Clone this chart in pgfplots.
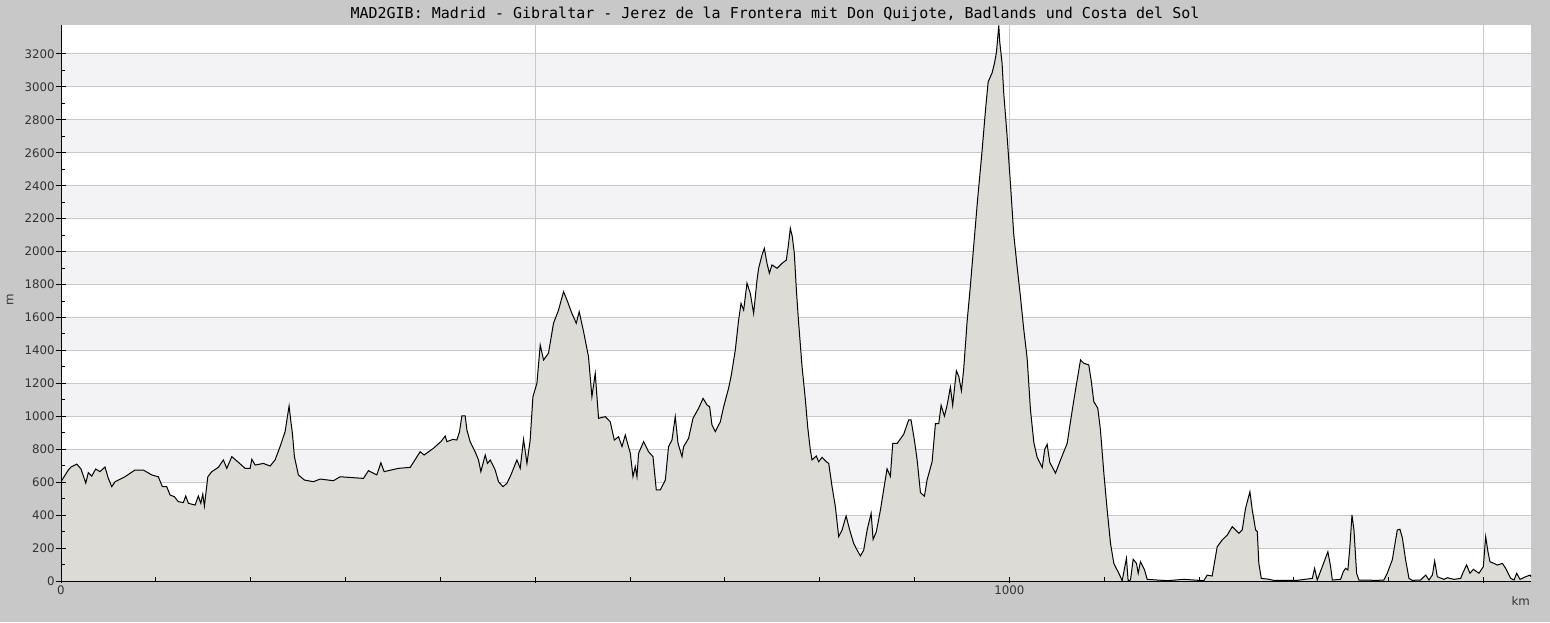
\documentclass[border=0pt]{standalone}
\usepackage{pgfplots}
\usepackage{pgfplotstable}
\pgfplotsset{compat=1.18}
\usepackage{fontspec}
\setmainfont{DejaVu Sans}
\newfontfamily\titlefont{DejaVu Sans Mono}

\definecolor{bggray}{HTML}{C8C8C8}
\definecolor{band}{HTML}{F3F2F5}
\definecolor{profil}{HTML}{DCDBD6}
\definecolor{gridc}{HTML}{C8C8C8}
\definecolor{labc}{HTML}{333333}

\pgfdeclarelayer{picbg}
\pgfdeclarelayer{axis background}
\pgfdeclarelayer{axis grid}
\pgfdeclarelayer{pre main}
\pgfdeclarelayer{axis ticks}
\pgfdeclarelayer{axis lines}
\pgfdeclarelayer{axis tick labels}
\pgfdeclarelayer{axis descriptions}
\pgfdeclarelayer{axis foreground}
% grid below the profile, ticks and axis lines above it
\pgfplotsset{
  layers/profil/.define layer set={picbg,axis background,axis grid,pre main,main,axis ticks,axis lines,axis tick labels,axis descriptions,axis foreground}{
    grid style={/pgfplots/on layer=axis grid},
    tick style={/pgfplots/on layer=axis ticks},
    axis line style={/pgfplots/on layer=axis lines},
    label style={/pgfplots/on layer=axis descriptions},
    legend style={/pgfplots/on layer=axis descriptions},
    title style={/pgfplots/on layer=axis descriptions},
    colorbar style={/pgfplots/on layer=axis descriptions},
    ticklabel style={/pgfplots/on layer=axis tick labels},
    axis background@ style={/pgfplots/on layer=axis background},
    3d box foreground style={/pgfplots/on layer=axis foreground},
  },
}

% Hoehenprofil: km, m
\pgfplotstableread{
km m
0 603
7.7 674
10.5 692
16.6 710
21.1 680
26.1 595
28.8 658
32.4 637
36.6 680
41.1 664
46.4 692
49.9 623
53.5 573
57.0 603
67.5 633
72.8 654
78.1 674
86.8 674
95.7 644
102.6 633
106.9 573
111.5 573
115 522
119.5 512
123.7 482
129 476
131.5 516
134.3 472
141.4 461
144.8 516
147.4 472
149.5 528
151.2 455
154.8 633
159 664
165.9 690
171.2 735
174.8 684
180.1 755
186.4 724
194.1 684
199.4 684
201.2 739
204.7 704
213.4 714
220.5 698
225.7 735
231 816
236.3 907
240.5 1063
242.6 958
244 897
246.1 755
250.3 644
256.7 613
266.2 603
273.2 619
287.3 609
294.3 633
318.9 623
324.2 670
333 644
337.3 718
340.7 664
355.8 684
368.2 690
378.7 785
382.9 765
392.7 806
400.5 846
405.1 880
406.9 846
413.2 860
417.4 856
420.2 907
422.7 1002
426.2 1002
428 917
431.4 846
436.7 785
440.2 735
442.7 664
447.3 765
449.7 714
452.6 735
457.8 674
461.3 603
466 573
470.2 593
474.4 644
480.7 735
484.2 684
487.7 860
491.3 714
494.7 856
497.6 1119
501.8 1200
505.3 1433
508.8 1342
514 1383
519.3 1565
524.6 1645
529.9 1757
533.5 1706
538.7 1625
543.3 1565
546.4 1635
551 1514
556.2 1362
559.8 1119
563.3 1261
566.8 988
573.9 998
579.1 967
583.4 856
587.9 876
591.5 816
595 887
600.3 775
603.1 633
605.5 694
607.3 633
609 775
614.3 846
619.5 785
624.2 755
627.7 553
631.9 553
637.2 613
640.6 816
644.2 856
647.7 998
650.6 836
654.8 755
656.5 816
661.7 866
666.4 988
672.3 1049
677 1109
681.2 1069
683.9 1058
686.4 947
689.9 907
695.2 967
698.7 1058
703.9 1170
706.8 1251
711 1403
714.5 1585
717 1686
719.8 1645
723.3 1808
726.8 1747
730.3 1625
733.9 1828
735.6 1899
739.2 1980
741.6 2020
744.4 1929
746.9 1869
749.7 1919
755 1899
760.3 1929
764.8 1949
767.2 2050
769 2142
771.1 2091
773.2 1990
775.4 1767
777.8 1565
781.4 1301
784.9 1099
787.3 937
790.1 795
791.9 735
796.4 759
798.9 724
802.5 751
807 724
809.5 714
813 573
816.5 451
820 269
823.6 310
827.8 395
831.6 310
835.8 229
839.4 188
842.9 152
846.4 188
850 310
854.2 411
856.3 253
859.7 299
864 431
867.4 553
871 681
874.5 636
877 835
881.6 835
888.5 890
893.8 978
896.3 978
899.8 857
902.7 736
906.2 537
910.4 515
913.2 614
918.5 724
922 956
925.5 956
928 1067
931.5 1001
934.3 1067
937.8 1177
940.2 1067
944.1 1276
946.6 1243
949.4 1155
951.8 1287
955.4 1574
958.9 1795
962.4 2038
966.6 2325
971.2 2612
974.7 2854
977.6 3031
981.8 3086
984.2 3142
986.3 3208
988.8 3373
989.8 3274
992.3 3142
994 2965
997.6 2700
1001.1 2413
1004.6 2104
1008.2 1905
1011.6 1729
1015.1 1530
1018.7 1353
1022.2 1040
1025.8 840
1029.3 750
1034.6 690
1037.3 800
1039.8 830
1042.6 720
1048.6 655
1053.9 735
1060.9 836
1065.2 998
1069.7 1160
1075 1342
1078.4 1322
1083.7 1312
1086.2 1220
1089 1089
1093.2 1049
1096 917
1099.6 654
1103.1 431
1106.6 229
1110.1 107
1115.4 47
1118.9 2
1123.4 138
1125.2 2
1127.7 6
1130.5 132
1134 107
1135.8 47
1138.2 117
1142.5 67
1145.3 10
1166.4 2
1183.9 10
1205 2
1208.6 36
1213.8 30
1219.1 208
1224.4 249
1229.7 279
1235 330
1242 290
1245.5 310
1249 441
1253.6 542
1256.1 431
1259.6 310
1261.4 299
1263 107
1265.6 16
1271.9 12
1278.9 4
1303.5 4
1319.4 16
1321.8 77
1324.6 6
1329.9 87
1335.8 178
1338.7 87
1340.5 6
1349.2 10
1352.1 57
1354.5 77
1356.9 67
1359 208
1361.2 401
1363.3 310
1366.1 47
1368.5 6
1387.9 4
1394.9 6
1398.4 47
1403.7 128
1409 310
1411.8 314
1414.3 263
1417.8 128
1421.3 16
1424.8 4
1433.6 6
1438.9 36
1442.4 6
1446 36
1448.4 121
1451.2 26
1458.2 10
1461.8 20
1468.8 10
1475.8 16
1478.7 57
1482.1 97
1485.6 47
1489.2 71
1495.1 47
1499.7 87
1502.2 269
1504.6 178
1506.7 117
1510.9 107
1514.5 97
1519.8 107
1523.3 77
1528.6 16
1532.1 6
1534.9 47
1538.4 10
1544.4 26
1549 36
1550 26
}\profiltab

\begin{document}
\begin{tikzpicture}
\pgfsetlayers{picbg,axis background,axis grid,pre main,main,axis ticks,axis lines,axis tick labels,axis descriptions,axis foreground}
% grauer Hintergrund (1 px = 0.5 pt), Achsenrechteck von (0,0) bis (735pt,278pt)
\begin{pgfonlayer}{picbg}
  \fill[bggray] (-30.5pt,-20.5pt) rectangle (744.5pt,290.5pt);
\end{pgfonlayer}
\begin{axis}[
    set layers=profil,
    scale only axis,
    width=735pt, height=278pt,
    xmin=0, xmax=1550,
    ymin=0, ymax=3376,
    axis x line*=bottom,
    axis y line*=left,
    axis line style={black, line width=0.5pt},
    xtick={0,500,1000,1500},
    xticklabels={0,,1000,},
    minor x tick num=4,
    ytick={0,200,...,3200},
    yticklabel={\pgfmathprintnumber{\tick}},
    minor y tick num=1,
    xmajorgrids, ymajorgrids,
    grid style={gridc, line width=0.5pt},
    tick align=center,
    major tick length=5.5pt,
    minor tick length=2pt,
    tick style={black, line width=0.5pt},
    xtick style={/pgfplots/major tick length=3pt},
    every major x tick/.append style={yshift=0.75pt},
    every minor x tick/.append style={yshift=1pt},
    every minor y tick/.append style={xshift=1pt},
    ticklabel style={font=\fontsize{5.9}{7}\selectfont, text=labc},
    /pgf/number format/assume math mode=true,
    /pgf/number format/1000 sep={},
    yticklabel style={anchor=east, inner sep=0pt, xshift=-0.2pt},
    xticklabel style={anchor=north, inner sep=0pt, yshift=0.8pt},
    title={MAD2GIB: Madrid - Gibraltar - Jerez de la Frontera mit Don Quijote, Badlands und Costa del Sol},
    every axis title/.style={at={(rel axis cs:0.4857,1)}, anchor=center, yshift=5.5pt, font=\titlefont\fontsize{7.5}{9}\selectfont},
    xlabel={km},
    ylabel={m},
    every axis x label/.style={at={(rel axis cs:0.993,0)}, anchor=center, yshift=-10pt, font=\fontsize{5.9}{7}\selectfont, text=labc},
    every axis y label/.style={at={(rel axis cs:0,0.505)}, anchor=center, xshift=-25.5pt, rotate=90, font=\fontsize{5.9}{7}\selectfont, text=labc},
]
\begin{pgfonlayer}{axis background}
  \fill[white] (axis cs:0,0) rectangle (axis cs:1550,3376);
  \fill[band] (axis cs:0,200) rectangle (axis cs:1550,400);
  \fill[band] (axis cs:0,600) rectangle (axis cs:1550,800);
  \fill[band] (axis cs:0,1000) rectangle (axis cs:1550,1200);
  \fill[band] (axis cs:0,1400) rectangle (axis cs:1550,1600);
  \fill[band] (axis cs:0,1800) rectangle (axis cs:1550,2000);
  \fill[band] (axis cs:0,2200) rectangle (axis cs:1550,2400);
  \fill[band] (axis cs:0,2600) rectangle (axis cs:1550,2800);
  \fill[band] (axis cs:0,3000) rectangle (axis cs:1550,3200);
\end{pgfonlayer}
\addplot[draw=none, fill=profil] table[x=km, y=m] {\profiltab} \closedcycle;
\addplot[black, line width=0.5pt] table[x=km, y=m] {\profiltab};
\end{axis}
\end{tikzpicture}
\end{document}
